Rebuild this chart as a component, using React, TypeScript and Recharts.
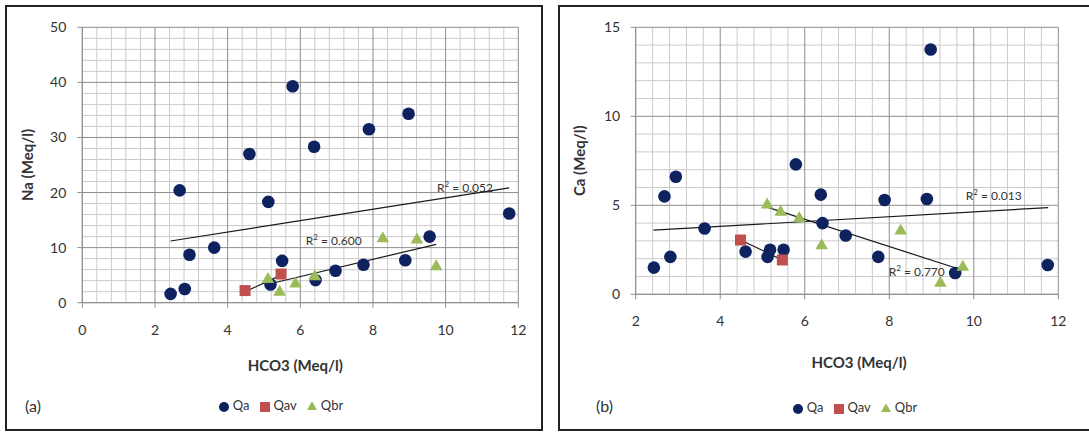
import {
  ScatterChart,
  Scatter,
  XAxis,
  YAxis,
  ReferenceLine,
  ReferenceDot,
  Legend,
} from "recharts";

const FONT = "Lato, 'Open Sans', sans-serif";
const NAVY = "#0e2260";
const RED = "#c0504d";
const GREEN = "#9bbb59";
const INK = "#333333";
const MINOR = "#cbcbcb";
const MAJOR = "#8e8e8e";

// Qa samples (HCO3 shared by both panels)
const qaHco3 = [2.43, 2.68, 2.82, 2.95, 3.63, 4.6, 5.12, 5.18, 5.5, 5.79, 6.38, 6.42, 6.97, 7.74, 7.89, 8.89, 8.98, 9.56, 11.75];
const qaNa = [1.6, 20.4, 2.5, 8.7, 10.0, 27.0, 18.3, 3.3, 7.6, 39.3, 28.3, 4.1, 5.8, 6.9, 31.5, 7.7, 34.3, 12.0, 16.2];
const qaCa = [1.5, 5.5, 2.1, 6.6, 3.7, 2.4, 2.1, 2.5, 2.5, 7.3, 5.6, 4.0, 3.3, 2.1, 5.3, 5.35, 13.75, 1.2, 1.65];

// Qav samples
const qavHco3 = [4.48, 5.47];
const qavNa = [2.2, 5.2];
const qavCa = [3.05, 1.93];

// Qbr samples
const qbrHco3 = [5.11, 5.43, 5.87, 6.4, 8.27, 9.21, 9.74];
const qbrNa = [4.5, 2.2, 3.7, 5.0, 11.9, 11.7, 6.85];
const qbrCa = [5.11, 4.7, 4.36, 2.83, 3.65, 0.71, 1.61];

// trendline end points [x, y]
const naTrendQa = [[2.43, 11.2], [11.75, 20.85]];
const naTrendQav = [[4.48, 2.0], [5.47, 5.0]];
const naTrendQbr = [[5.11, 3.35], [9.74, 10.6]];
const caTrendQa = [[2.42, 3.6], [11.76, 4.87]];
const caTrendQav = [[4.48, 3.05], [5.47, 1.93]];
const caTrendQbr = [[5.11, 4.9], [9.74, 1.35]];

// R² annotations: [x, y, text]
const naR2: [number, number, string][] = [[9.76, 20.1, "0.052"], [6.15, 10.45, "0.600"]];
const caR2: [number, number, string][] = [[9.81, 5.3, "0.013"], [7.99, 1.03, "0.770"]];

// ticks
const naTicks = [0, 10, 20, 30, 40, 50];
const caTicks = [0, 5, 10, 15];
const hco3TicksA = [0, 2, 4, 6, 8, 10, 12];
const hco3TicksB = [2, 4, 6, 8, 10, 12];

const pts = (xs: number[], ys: number[]) => xs.map((x, i) => ({ x, y: ys[i] }));
const steps = (from: number, to: number, step: number) => {
  const out: number[] = [];
  for (let i = 0; from + i * step <= to + 1e-9; i++) out.push(+(from + i * step).toFixed(4));
  return out;
};

const circle = (p: any) => <circle cx={p.cx} cy={p.cy} r={6.3} fill={NAVY} />;
const square = (p: any) => <rect x={p.cx - 5.5} y={p.cy - 5.5} width={11} height={11} fill={RED} />;
const triangle = (p: any) => (
  <polygon
    points={`${p.cx},${p.cy - 5.8} ${p.cx + 6.3},${p.cy + 5.2} ${p.cx - 6.3},${p.cy + 5.2}`}
    fill={GREEN}
  />
);

const r2Label = (text: string) => (props: any) => {
  const { x, y } = props.viewBox;
  return (
    <text x={x} y={y} fontSize={12} fill={INK} fontFamily={FONT}>
      R<tspan dy={-5} fontSize={8}>2</tspan>
      <tspan dy={5}> = {text}</tspan>
    </text>
  );
};

type PanelProps = {
  left: number;
  width: number;
  yTitle: string;
  yTicks: number[];
  yMinor: number;
  xTicks: number[];
  ys: { qa: number[]; qav: number[]; qbr: number[] };
  trends: number[][][];
  r2: [number, number, string][];
  margin: { top: number; right: number; bottom: number; left: number };
  xAxisHeight: number;
  xTitleDx: number;
  yTitleOffset: number;
  tickMarginY: number;
  legendLeft: number;
  legendTop: number;
  tag: string;
  tagLeft: number;
};

function Panel(p: PanelProps) {
  const xMin = p.xTicks[0];
  const xMax = p.xTicks[p.xTicks.length - 1];
  const yMax = p.yTicks[p.yTicks.length - 1];
  const minorY = steps(0, yMax, p.yMinor).filter((v) => !p.yTicks.includes(v));
  const minorX = steps(xMin, xMax, 0.4).filter((v) => !p.xTicks.includes(v));
  return (
    <div style={{ position: "absolute", left: p.left, top: 0, width: p.width, height: 432 }}>
      <ScatterChart width={p.width} height={432} margin={p.margin}>
        {minorY.map((v) => (
          <ReferenceLine key={"mh" + v} y={v} stroke={MINOR} strokeWidth={1} />
        ))}
        {minorX.map((v) => (
          <ReferenceLine key={"mv" + v} x={v} stroke={MINOR} strokeWidth={1} />
        ))}
        {p.yTicks.map((v) => (
          <ReferenceLine key={"h" + v} y={v} stroke={MAJOR} strokeWidth={1} />
        ))}
        {p.xTicks.map((v) => (
          <ReferenceLine key={"v" + v} x={v} stroke={MAJOR} strokeWidth={1} />
        ))}
        <XAxis
          type="number"
          dataKey="x"
          domain={[xMin, xMax]}
          ticks={p.xTicks}
          height={p.xAxisHeight}
          stroke={MAJOR}
          tickSize={5}
          tickMargin={17}
          tick={{ fill: INK, fontSize: 14, fontFamily: FONT }}
          label={{
            value: "HCO3 (Meq/l)",
            position: "insideBottom",
            offset: 2,
            dx: p.xTitleDx,
            style: { fill: INK, fontSize: 15, fontWeight: 700, fontFamily: FONT },
          }}
        />
        <YAxis
          type="number"
          dataKey="y"
          domain={[0, yMax]}
          ticks={p.yTicks}
          width={70}
          stroke={MAJOR}
          tickSize={5}
          tickMargin={p.tickMarginY}
          tick={{ fill: INK, fontSize: 14, fontFamily: FONT }}
          label={{
            value: p.yTitle,
            angle: -90,
            position: "insideLeft",
            offset: p.yTitleOffset,
            style: { textAnchor: "middle", fill: INK, fontSize: 15, fontWeight: 700, fontFamily: FONT },
          }}
        />
        {p.trends.map((t, i) => (
          <ReferenceLine
            key={"t" + i}
            segment={[{ x: t[0][0], y: t[0][1] }, { x: t[1][0], y: t[1][1] }]}
            stroke="#1a1a1a"
            strokeWidth={1.2}
          />
        ))}
        <Scatter name="Qa" data={pts(qaHco3, p.ys.qa)} fill={NAVY} legendType="circle" shape={circle} isAnimationActive={false} />
        <Scatter name="Qav" data={pts(qavHco3, p.ys.qav)} fill={RED} legendType="square" shape={square} isAnimationActive={false} />
        <Scatter name="Qbr" data={pts(qbrHco3, p.ys.qbr)} fill={GREEN} legendType="triangle" shape={triangle} isAnimationActive={false} />
        {p.r2.map(([x, y, text], i) => (
          <ReferenceDot key={"r" + i} x={x} y={y} r={0} fill="none" stroke="none" label={{ content: r2Label(text) }} />
        ))}
        <Legend
          layout="horizontal"
          verticalAlign="middle"
          align="center"
          iconSize={10}
          formatter={(v: string) => <span style={{ color: INK }}>{v}</span>}
          wrapperStyle={{ top: p.legendTop, left: p.legendLeft, width: 140, fontSize: 13, fontFamily: FONT }}
        />
      </ScatterChart>
      <div style={{ position: "absolute", left: p.tagLeft, top: 396, fontSize: 16, fontFamily: FONT, color: INK }}>{p.tag}</div>
    </div>
  );
}

export default function App() {
  return (
    <div style={{ position: "absolute", left: 0, top: 0, width: 1089, height: 432, background: "#fff", fontFamily: FONT }}>
      <div style={{ position: "absolute", left: 5, top: 5, width: 534, height: 422, border: "2px solid #222" }} />
      <div style={{ position: "absolute", left: 558, top: 5, width: 540, height: 422, border: "2px solid #222" }} />
      <Panel
        left={0}
        width={545}
        yTitle="Na (Meq/l)"
        yTicks={naTicks}
        yMinor={2}
        xTicks={hco3TicksA}
        ys={{ qa: qaNa, qav: qavNa, qbr: qbrNa }}
        trends={[naTrendQa, naTrendQav, naTrendQbr]}
        r2={naR2}
        margin={{ top: 27.3, right: 26.7, left: 12.3, bottom: 59.3 }}
        xAxisHeight={70}
        xTitleDx={-5}
        yTitleOffset={15.7}
        tickMarginY={11}
        legendLeft={216}
        legendTop={397}
        tag="(a)"
        tagLeft={25}
      />
      <Panel
        left={545}
        width={544}
        yTitle="Ca (Meq/l)"
        yTicks={caTicks}
        yMinor={1}
        xTicks={hco3TicksB}
        ys={{ qa: qaCa, qav: qavCa, qbr: qbrCa }}
        trends={[caTrendQa, caTrendQav, caTrendQbr]}
        r2={caR2}
        margin={{ top: 27.3, right: 30.7, left: 20.7, bottom: 61.7 }}
        xAxisHeight={76}
        xTitleDx={12}
        yTitleOffset={14.3}
        tickMarginY={10.5}
        legendLeft={245}
        legendTop={399}
        tag="(b)"
        tagLeft={51}
      />
    </div>
  );
}
